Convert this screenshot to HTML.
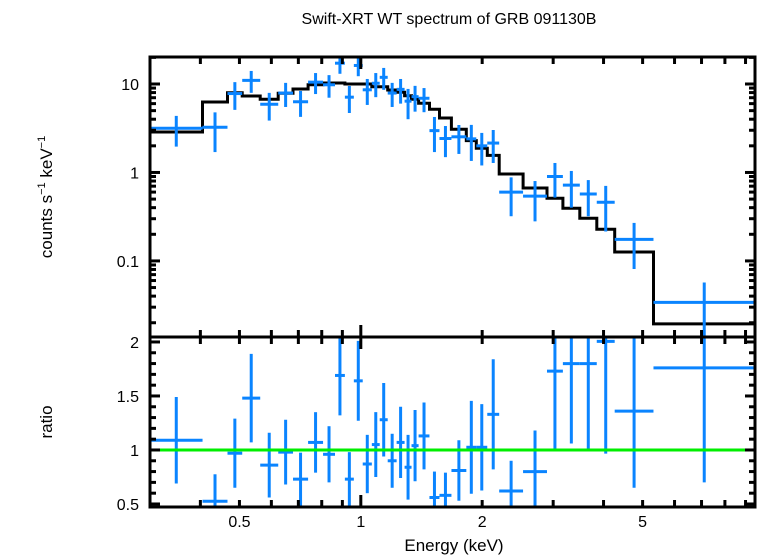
<!DOCTYPE html>
<html><head><meta charset="utf-8"><style>
html,body{margin:0;padding:0;background:#fff;}
svg{display:block;font-family:"Liberation Sans","DejaVu Sans",sans-serif;}
</style></head><body>
<svg id="c" width="758" height="556" viewBox="0 0 758 556" xmlns="http://www.w3.org/2000/svg">
<defs>
<clipPath id="clipTop"><rect x="150" y="57" width="605" height="280"/></clipPath>
<clipPath id="clipBot"><rect x="150" y="337" width="605" height="170"/></clipPath>
</defs>
<text x="449" y="24" font-size="16" text-anchor="middle" fill="#000">Swift-XRT WT spectrum of GRB 091130B</text>
<text x="454" y="551" font-size="17" text-anchor="middle" fill="#000">Energy (keV)</text>
<text transform="translate(52,197) rotate(-90)" font-size="17" text-anchor="middle" fill="#000">counts s<tspan font-size="11" dy="-7">−1</tspan><tspan dy="7"> keV</tspan><tspan font-size="11" dy="-7">−1</tspan></text>
<text transform="translate(52,422) rotate(-90)" font-size="17" text-anchor="middle" fill="#000">ratio</text>
<g id="gTop" clip-path="url(#clipTop)"></g>
<g id="gBot" clip-path="url(#clipBot)"></g>
<g id="gAxes"></g>
</svg>
<script>
const binEdges = [0.30,0.405,0.467,0.508,0.563,0.624,0.679,0.740,0.806,0.863,0.913,0.961,1.011,1.065,1.114,1.166,1.227,1.284,1.336,1.391,1.480,1.567,1.678,1.827,1.934,2.059,2.204,2.526,2.896,3.171,3.493,3.848,4.263,5.320,9.50];
const counts = [3.16,3.24,7.8,11.0,5.9,7.9,6.3,10.5,9.8,17.2,7.1,16.2,8.6,10.2,11.9,7.9,8.7,6.4,7.2,6.9,2.97,2.42,2.53,2.4,2.0,2.15,0.6,0.54,0.9,0.72,0.57,0.46,0.175,0.034];
const countsErr = [1.2,1.54,2.7,3.05,2.04,2.4,2.05,2.8,2.8,4.15,2.4,3.95,2.8,3.1,3.3,2.4,2.7,2.4,2.33,2.1,1.27,0.93,0.91,1.05,0.8,0.87,0.28,0.26,0.38,0.32,0.25,0.245,0.094,0.023];
const model = [2.87,6.26,7.97,7.32,6.71,7.85,8.78,9.82,10.26,10.26,10.0,10.0,10.0,9.32,9.32,8.55,8.06,7.38,6.71,6.05,5.18,4.13,3.08,2.29,1.88,1.56,0.962,0.668,0.511,0.394,0.304,0.228,0.126,0.0194];
const ratio = [1.09,0.525,0.97,1.48,0.86,0.98,0.73,1.07,0.96,1.69,0.73,1.64,0.87,1.05,1.28,0.9,1.07,0.84,1.04,1.13,0.56,0.58,0.81,1.025,1.025,1.33,0.62,0.80,1.73,1.80,1.80,2.006,1.36,1.76];
const ratioErr = [0.40,0.25,0.32,0.41,0.3,0.3,0.245,0.28,0.26,0.37,0.25,0.37,0.27,0.3,0.34,0.25,0.33,0.3,0.33,0.31,0.24,0.21,0.28,0.43,0.4,0.51,0.28,0.38,0.72,0.74,0.79,1.04,0.71,1.06];
const xTickLabels = [0.5,1,2,5];
const yTickLabels = [10,1,0.1];
const yTickText = ["10","1","0.1"];
const rTickLabels = [2,1.5,1,0.5];
const rTickText = ["2","1.5","1","0.5"];

const NS="http://www.w3.org/2000/svg";
const L=150,R=755,T=57,M=337,B=507;
const xMin=0.3, xMax=9.5;
const yMin=0.0138, yMax=20.2;
const rMin=0.472, rMax=2.046;
function xs(e){return L+(Math.log10(e)-Math.log10(xMin))/(Math.log10(xMax)-Math.log10(xMin))*(R-L);}
function ys(v){return M-(Math.log10(v)-Math.log10(yMin))/(Math.log10(yMax)-Math.log10(yMin))*(M-T);}
function rs(v){return B-(v-rMin)/(rMax-rMin)*(B-M);}
function el(tag,attrs,parent){const e=document.createElementNS(NS,tag);for(const k in attrs)e.setAttribute(k,attrs[k]);parent.appendChild(e);return e;}
const gTop=document.getElementById('gTop'),gBot=document.getElementById('gBot'),gAx=document.getElementById('gAxes');
const BLUE="#0a84ff";

// model step
let d="";
for(let i=0;i<model.length;i++){
  const x0=xs(binEdges[i]),x1=xs(binEdges[i+1]),y=ys(model[i]);
  d+=(i===0?"M":"L")+x0.toFixed(1)+","+y.toFixed(1)+"L"+x1.toFixed(1)+","+y.toFixed(1);
}
const mp=el('path',{d:d,fill:'none',stroke:'#000','stroke-width':3},gTop);



// data crosses
for(let i=0;i<counts.length;i++){
  const x0=xs(binEdges[i]),x1=xs(binEdges[i+1]);
  const xc=xs(Math.sqrt(binEdges[i]*binEdges[i+1]));
  const g=el('g',{},gTop);
  
  
  const lo=Math.max(counts[i]-countsErr[i],1e-4);
  el('line',{x1:x0,x2:x1,y1:ys(counts[i]),y2:ys(counts[i]),stroke:BLUE,'stroke-width':3},g);
  el('line',{x1:xc,x2:xc,y1:ys(counts[i]+countsErr[i]),y2:ys(lo),stroke:BLUE,'stroke-width':3},g);
  const g2=el('g',{},gBot);
  
  
  el('line',{x1:x0,x2:x1,y1:rs(ratio[i]),y2:rs(ratio[i]),stroke:BLUE,'stroke-width':3},g2);
  el('line',{x1:xc,x2:xc,y1:rs(ratio[i]+ratioErr[i]),y2:rs(ratio[i]-ratioErr[i]),stroke:BLUE,'stroke-width':3},g2);
}
const gl=el('line',{x1:L,x2:R,y1:rs(1),y2:rs(1),stroke:'#00ee00','stroke-width':3},gBot);



// frames
const f1=el('rect',{x:L,y:T,width:R-L,height:M-T,fill:'none',stroke:'#000','stroke-width':3},gAx);


const f2=el('rect',{x:L,y:M,width:R-L,height:B-M,fill:'none',stroke:'#000','stroke-width':3},gAx);



function tick(x1,y1,x2,y2){el('line',{x1:x1,y1:y1,x2:x2,y2:y2,stroke:'#000','stroke-width':3},gAx);}
// x ticks
for(let dec=0.1;dec<=1;dec*=10){
  for(let k=1;k<=9;k++){
    const e=k*dec; if(e<xMin||e>xMax) continue;
    const x=xs(e), len=(k===1)?12:7;
    tick(x,T,x,T+len); tick(x,M,x,M-len); tick(x,M,x,M+len); tick(x,B,x,B-len);
  }
}
// y ticks log
for(let dec=0.01;dec<=10;dec*=10){
  for(let k=1;k<=9;k++){
    const v=k*dec; if(v<yMin||v>yMax) continue;
    const y=ys(v), len=(k===1)?10:6;
    tick(L,y,L+len,y); tick(R,y,R-len,y);
  }
}
// ratio ticks
for(let i=5;i<=20;i++){
  const v=i/10, y=rs(v), len=(i%5===0)?10:6;
  tick(L,y,L+len,y); tick(R,y,R-len,y);
}
// labels
xTickLabels.forEach((v,i)=>{
  const t=el('text',{x:xs(v),y:527,'font-size':16,'text-anchor':'middle',fill:'#000'},gAx);
  t.textContent=String(v);
  
  
});
yTickLabels.forEach((v,i)=>{
  const t=el('text',{x:139,y:ys(v)+6,'font-size':16,'text-anchor':'end',fill:'#000'},gAx);
  t.textContent=yTickText[i];
  
  
});
rTickLabels.forEach((v,i)=>{
  const t=el('text',{x:139,y:rs(v)+6,'font-size':16,'text-anchor':'end',fill:'#000'},gAx);
  t.textContent=rTickText[i];
  
  
});
</script>
</body></html>
